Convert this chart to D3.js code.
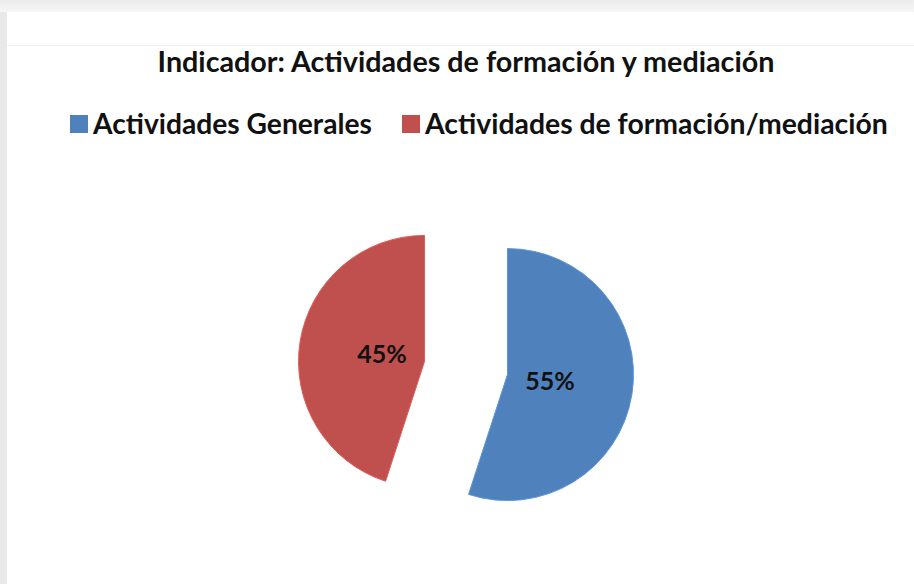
<!DOCTYPE html>
<html>
<head>
<meta charset="utf-8">
<script src="https://cdn.jsdelivr.net/npm/d3@7"></script>
<style>
  body { margin: 0; background: #fff; }
  svg { display: block; font-family: Lato, "Open Sans", sans-serif; }
</style>
</head>
<body>
<div id="chart"></div>
<script>
const categories = ["Actividades Generales", "Actividades de formación/mediación"];
const values = [55, 45];
const colors = ["#4F81BD", "#C0504D"];
const title = "Indicador: Actividades de formación y mediación";

const width = 914, height = 584;
const cx = 466, cy = 368, radius = 126, explode = 42;

const svg = d3.select("#chart").append("svg")
    .attr("width", width)
    .attr("height", height);

// page frame: gray edges like the screenshot
const grad = svg.append("defs").append("linearGradient")
    .attr("id", "topband").attr("x1", 0).attr("y1", 0).attr("x2", 0).attr("y2", 1);
grad.append("stop").attr("offset", "0%").attr("stop-color", "#ececec");
grad.append("stop").attr("offset", "100%").attr("stop-color", "#f6f6f6");
svg.append("rect").attr("width", width).attr("height", 12).attr("fill", "url(#topband)");
svg.append("rect").attr("y", 12).attr("width", 7).attr("height", height - 12).attr("fill", "#e9e9e9");
svg.append("line")
    .attr("x1", 7).attr("x2", width).attr("y1", 45.5).attr("y2", 45.5)
    .attr("stroke", "#f1f1f1");

// fit text to a target width
function fit(sel, w) {
    const len = sel.node().getComputedTextLength();
    const fs = parseFloat(sel.attr("font-size"));
    sel.attr("font-size", fs * w / len);
}

svg.append("text")
    .attr("x", 466).attr("y", 72)
    .attr("text-anchor", "middle")
    .attr("font-weight", "bold")
    .attr("font-size", 22)
    .attr("fill", "#111")
    .text(title)
    .call(fit, 617);

// legend
const legendX = [70, 402];
const legendW = [279, 463];
const legend = svg.selectAll(".legend")
    .data(categories)
    .enter().append("g")
    .attr("class", "legend")
    .attr("transform", (d, i) => `translate(${legendX[i]}, 115)`);

legend.append("rect")
    .attr("width", 18).attr("height", 18)
    .attr("fill", (d, i) => colors[i]);

legend.append("text")
    .attr("x", 23).attr("y", 19)
    .attr("font-weight", "bold")
    .attr("font-size", 24)
    .attr("fill", "#111")
    .text(d => d)
    .each(function(d, i) { fit(d3.select(this), legendW[i]); });

// pie
const pie = d3.pie().sort(null).value(d => d);
const arcs = pie(values);
const arc = d3.arc().innerRadius(0).outerRadius(radius);
const labelArc = d3.arc().innerRadius(43).outerRadius(43);

const g = svg.append("g").attr("transform", `translate(${cx}, ${cy})`);

const slice = g.selectAll(".slice")
    .data(arcs)
    .enter().append("g")
    .attr("class", "slice")
    .attr("transform", d => {
        const a = (d.startAngle + d.endAngle) / 2;
        return `translate(${Math.sin(a) * explode}, ${-Math.cos(a) * explode})`;
    });

slice.append("path")
    .attr("d", arc)
    .attr("fill", (d, i) => colors[i])
    .attr("stroke", (d, i) => d3.color(colors[i]).brighter(0.4))
    .attr("stroke-width", 1);

slice.append("text")
    .attr("transform", d => `translate(${labelArc.centroid(d)})`)
    .attr("text-anchor", "middle")
    .attr("dy", "0.35em")
    .attr("font-weight", "bold")
    .attr("font-size", 25)
    .attr("fill", "#111")
    .text(d => d.data + "%");
</script>
</body>
</html>
